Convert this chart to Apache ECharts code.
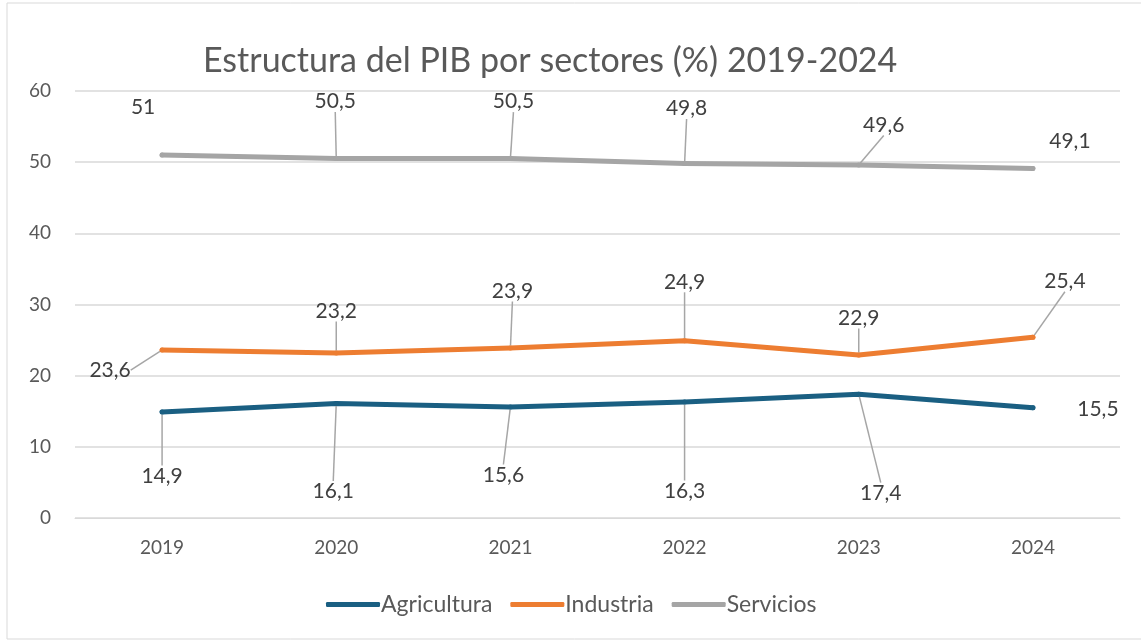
<!DOCTYPE html>
<html>
<head>
<meta charset="utf-8">
<script src="https://cdn.jsdelivr.net/npm/echarts@6/dist/echarts.min.js"></script>
<style>
html,body{margin:0;padding:0;background:#fff;}
#main{width:1141px;height:642px;}
</style>
</head>
<body>
<div id="main"></div>
<script>
var years = ['2019', '2020', '2021', '2022', '2023', '2024'];
var agricultura = [14.9, 16.1, 15.6, 16.3, 17.4, 15.5];
var industria = [23.6, 23.2, 23.9, 24.9, 22.9, 25.4];
var servicios = [51, 50.5, 50.5, 49.8, 49.6, 49.1];

// label offsets (from point to label centre), Excel style
var offAgri = [[0, 64], [-3, 88], [-7, 68], [0, 89], [22, 99], [65, 2]];
var offInd = [[-52, 20], [0, -42], [2, -57], [0, -59], [0, -37], [32, -56]];
var offServ = [[-19, -48], [-1, -57], [3, -57], [2, -55], [25, -40], [37, -27]];
var noLeader = {'0-5': true, '2-0': true, '2-5': true};
var offsets = [offAgri, offInd, offServ];

function fmt(v) {
	return String(v).replace('.', ',');
}

function buildData(values, s) {
	var arr = [];
	for (var i = 0; i < values.length; i++) {
		var item = {value: values[i]};
		if (noLeader[s + '-' + i]) {
			item.labelLine = {show: false};
		}
		arr.push(item);
	}
	return arr;
}

function makeSeries(name, values, color, s) {
	return {
		name: name,
		type: 'line',
		data: buildData(values, s),
		symbol: 'circle',
		symbolSize: 5,
		itemStyle: {color: color},
		lineStyle: {width: 5, color: color, cap: 'round', join: 'round'},
		label: {
			show: true,
			position: 'inside',
			color: '#404040',
			fontSize: 21,
			fontFamily: 'Lato',
			formatter: function (p) { return fmt(p.value); }
		},
		labelLine: {show: true, lineStyle: {color: '#a6a6a6', width: 1.5}},
		labelLayout: function (p) {
			var o = offsets[s][p.dataIndex];
			return {dx: o[0], dy: o[1]};
		},
		emphasis: {disabled: true},
		z: 3 + s
	};
}

var myChart = echarts.init(document.getElementById('main'));
var option = {
	backgroundColor: '#fff',
	animation: false,
	title: {
		text: 'Estructura del PIB por sectores (%) 2019-2024',
		left: 198,
		top: 39,
		textStyle: {color: '#595959', fontSize: 34, fontWeight: 'normal', fontFamily: 'Lato'}
	},
	legend: {
		bottom: 21,
		left: 321,
		itemWidth: 54,
		itemHeight: 5,
		itemGap: 18,
		icon: 'roundRect',
		textStyle: {color: '#595959', fontSize: 23, fontFamily: 'Lato', padding: [0, 0, 0, -4]},
		data: ['Agricultura', 'Industria', 'Servicios']
	},
	grid: {left: 75, right: 21, top: 91, bottom: 124},
	xAxis: {
		type: 'category',
		data: years,
		axisLine: {lineStyle: {color: '#d9d9d9'}},
		axisTick: {show: false},
		axisLabel: {color: '#595959', fontSize: 19, fontFamily: 'Lato', margin: 20}
	},
	yAxis: {
		type: 'value',
		min: 0,
		max: 60,
		interval: 10,
		axisLine: {show: false},
		axisTick: {show: false},
		axisLabel: {color: '#595959', fontSize: 19, fontFamily: 'Lato', margin: 24},
		splitLine: {lineStyle: {color: '#d9d9d9', width: 1.5}}
	},
	graphic: [{
		type: 'rect',
		shape: {x: 7, y: 3, width: 1140, height: 636},
		style: {fill: 'none', stroke: '#d9d9d9', lineWidth: 1},
		silent: true
	}],
	series: [
		makeSeries('Agricultura', agricultura, '#1a5f82', 0),
		makeSeries('Industria', industria, '#ed7d31', 1),
		makeSeries('Servicios', servicios, '#a5a5a5', 2)
	]
};
myChart.setOption(option);
</script>
</body>
</html>
